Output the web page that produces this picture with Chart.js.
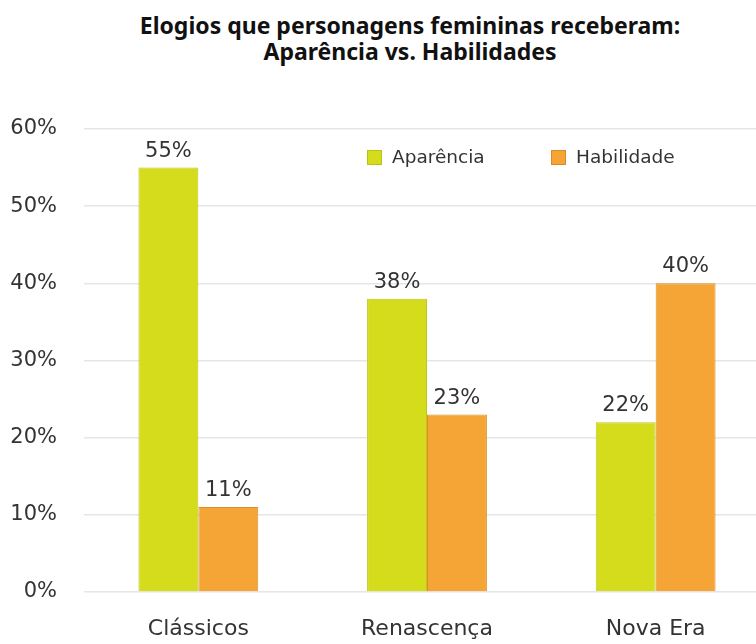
<!DOCTYPE html>
<html>
<head>
<meta charset="utf-8">
<script src="https://cdn.jsdelivr.net/npm/chart.js@4"></script>
<style>
  html, body { margin: 0; padding: 0; background: #fff; overflow: hidden; width: 756px; height: 644px; }
  #title { position: absolute; left: 110px; width: 600px; top: 12px; text-align: center;
    font: bold 23px "Noto Sans", sans-serif; line-height: 26px; color: #111; }
  #wrap { position: absolute; left: 0; top: 0; width: 780px; height: 644px; }
  .leg { position: absolute; top: 146px; font: 18.5px "DejaVu Sans", sans-serif; color: #333; line-height: 22px; }
  .leg i { display: inline-block; width: 15px; height: 15px; vertical-align: -2px; margin-right: 10px; box-sizing: border-box; }
</style>
</head>
<body>
<div id="title">Elogios que personagens femininas receberam:<br>Aparência vs. Habilidades</div>
<div id="wrap"><canvas id="chart"></canvas></div>
<div class="leg" style="left:367px"><i style="background:#d4dc1c;border:1px solid #b9c215"></i>Aparência</div>
<div class="leg" style="left:551px"><i style="background:#f5a535;border:1px solid #d98c22"></i>Habilidade</div>
<script>
// data
const categories = ['Clássicos', 'Renascença', 'Nova Era']
const aparencia = [55, 38, 22]
const habilidade = [11, 23, 40]
const yTicks = [0, 10, 20, 30, 40, 50, 60]

const FONT = '"DejaVu Sans", sans-serif'

// value labels on top of bars
const barLabels = {
  id: 'barLabels',
  afterDatasetsDraw(chart) {
    const ctx = chart.ctx
    ctx.save()
    ctx.font = '21px ' + FONT
    ctx.fillStyle = '#333'
    ctx.textAlign = 'center'
    ctx.textBaseline = 'alphabetic'
    chart.data.datasets.forEach((ds, i) => {
      chart.getDatasetMeta(i).data.forEach((bar, j) => {
        ctx.fillText(ds.data[j] + '%', bar.x, bar.y - 11)
      })
    })
    ctx.restore()
  }
}

new Chart(document.getElementById('chart'), {
  type: 'bar',
  data: {
    labels: categories,
    datasets: [
      { label: 'Aparência', data: aparencia, backgroundColor: '#d4dc1c', borderColor: '#bfc718', borderWidth: 1 },
      { label: 'Habilidade', data: habilidade, backgroundColor: '#f5a535', borderColor: '#dc8f26', borderWidth: 1 }
    ]
  },
  options: {
    responsive: true,
    maintainAspectRatio: false,
    animation: false,
    layout: { padding: { top: 129, bottom: 2, right: 10, left: 0 } },
    datasets: { bar: { categoryPercentage: 0.524, barPercentage: 1 } },
    plugins: { legend: { display: false }, title: { display: false }, tooltip: { enabled: false } },
    scales: {
      x: {
        afterFit(axis) { axis.height = 50 },
        grid: { display: false, drawTicks: false },
        border: { display: false },
        ticks: { color: '#333', font: { family: FONT, size: 22 }, padding: 24, maxRotation: 0 }
      },
      y: {
        min: 0, max: 60,
        afterBuildTicks(axis) { axis.ticks = yTicks.map(v => ({ value: v })) },
        afterFit(axis) { axis.width = 84 },
        grid: { color: '#e6e6e6', lineWidth: 1.5, drawTicks: false },
        border: { display: false },
        ticks: { color: '#333', font: { family: FONT, size: 21 }, padding: 27, callback: v => v + '%' }
      }
    }
  },
  plugins: [barLabels]
})
</script>
</body>
</html>
